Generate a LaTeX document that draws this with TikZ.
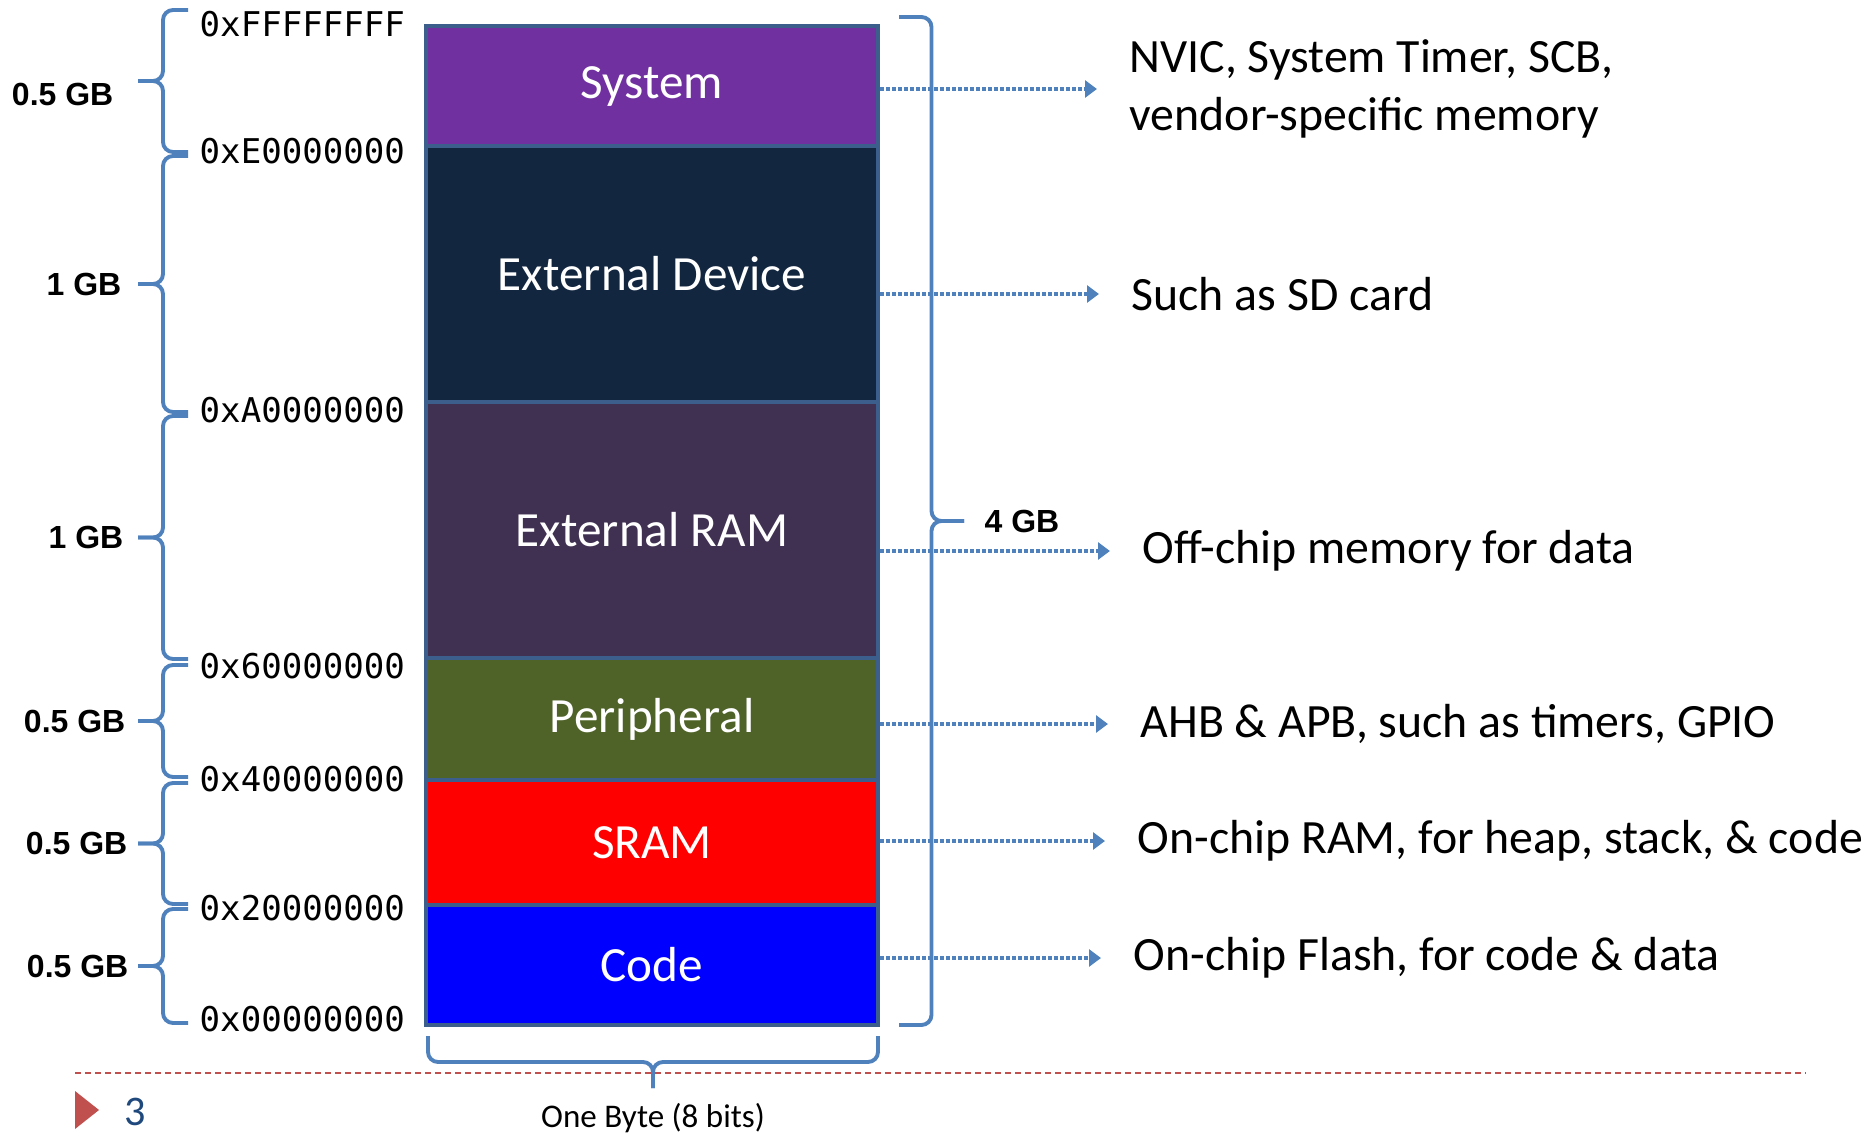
\documentclass[tikz,border=0pt]{standalone}
\usepackage{fontspec}
\setmainfont{Carlito}
\newfontfamily\addrfont{DejaVu Sans Mono}
\newfontfamily\gbfont{Liberation Sans}
\usepackage{tikz}
\usetikzlibrary{arrows.meta,positioning,calc}
\usepackage{xcolor}
\definecolor{framec}{RGB}{59,94,140}
\definecolor{bracec}{RGB}{79,129,189}
\definecolor{sysc}{RGB}{112,48,160}
\definecolor{devc}{RGB}{19,38,64}
\definecolor{ramc}{RGB}{64,49,82}
\definecolor{perc}{RGB}{79,98,40}
\definecolor{sramc}{RGB}{255,0,0}
\definecolor{codec}{RGB}{0,0,255}
\definecolor{slidered}{RGB}{192,80,77}
\definecolor{pagec}{RGB}{31,73,125}

% vertical brace: end x, tip x, top y, bottom y, tip name
\newcommand{\vbrc}[5]{%
  \coordinate (#5) at (#2,{(#3+#4)/2});
  \draw[brcline] (#1,#3) -- ({(#1+#2)/2},#3) -- ({(#1+#2)/2},{(#3+#4)/2}) -- (#5);
  \draw[brcline] (#5) -- ({(#1+#2)/2},{(#3+#4)/2}) -- ({(#1+#2)/2},#4) -- (#1,#4);}
% horizontal brace: left x, right x, end y, tip y, tip name
\newcommand{\hbrc}[5]{%
  \coordinate (#5) at ({(#1+#2)/2},#4);
  \draw[brcline] (#1,#3) -- (#1,{(#3+#4)/2}) -- ({(#1+#2)/2},{(#3+#4)/2}) -- (#5);
  \draw[brcline] (#5) -- ({(#1+#2)/2},{(#3+#4)/2}) -- (#2,{(#3+#4)/2}) -- (#2,#3);}

\begin{document}
\begin{tikzpicture}[region/.style={draw=framec, line width=1.4pt, minimum width=4.52cm, text=white, font=\fontsize{14}{16}\selectfont},
  note/.style={anchor=west, inner sep=0, align=left, font=\fontsize{13.6}{16.5}\selectfont},
  addr/.style={anchor=west, inner sep=0, font=\addrfont\fontsize{9.7}{11}\selectfont},
  gbsize/.style={inner sep=0, font=\gbfont\bfseries\fontsize{9.1}{11}\selectfont},
  brcline/.style={draw=bracec, line width=1.1pt, rounded corners=0.1cm},
  link/.style={draw=bracec, line width=1.3pt, dash pattern=on 0.04cm off 0.02cm, -{Triangle[length=0.12cm,width=0.17cm]}, shorten >=0.32cm}]
\useasboundingbox (0,0) rectangle (18.75,11.36);

% memory regions
\node[region, fill=sysc, minimum height=1.2cm] (sys) at (6.52,10.50) {System};
\node[region, fill=devc, minimum height=2.56cm] (dev) at (6.52,8.62) {External Device};
\node[region, fill=ramc, minimum height=2.56cm] (ram) at (6.52,6.06) {External RAM};
\node[region, fill=perc, minimum height=1.22cm] (per) at (6.52,4.17) {Peripheral};
\node[region, fill=sramc, minimum height=1.25cm] (sram) at (6.52,2.935) {SRAM};
\node[region, fill=codec, minimum height=1.2cm] (code) at (6.52,1.71) {Code};

% addresses
\node[addr] (aF) at (1.99,11.12) {0xFFFFFFFF};
\node[addr] (aE) at (1.99,9.85) {0xE0000000};
\node[addr] (aA) at (1.99,7.26) {0xA0000000};
\node[addr] (a6) at (1.99,4.70) {0x60000000};
\node[addr] (a4) at (1.99,3.57) {0x40000000};
\node[addr] (a2) at (1.99,2.28) {0x20000000};
\node[addr] (a0) at (1.99,1.17) {0x00000000};

% sizes
\vbrc{1.88}{1.38}{11.26}{9.84}{t1}
\vbrc{1.88}{1.38}{9.80}{7.24}{t2}
\vbrc{1.88}{1.38}{7.20}{4.77}{t3}
\vbrc{1.88}{1.38}{4.71}{3.59}{t4}
\vbrc{1.88}{1.38}{3.53}{2.32}{t5}
\vbrc{1.88}{1.38}{2.27}{1.13}{t6}
\vbrc{8.99}{9.64}{11.19}{1.11}{t7}
\hbrc{4.28}{8.78}{1.00}{0.48}{t8}
\node[gbsize, left=0.24cm of t1, yshift=-0.13cm] (s1) {0.5 GB};
\node[gbsize, left=0.16cm of t2] (s2) {1 GB};
\node[gbsize, left=0.14cm of t3] (s3) {1 GB};
\node[gbsize, left=0.12cm of t4] (s4) {0.5 GB};
\node[gbsize, left=0.10cm of t5] (s5) {0.5 GB};
\node[gbsize, left=0.09cm of t6] (s6) {0.5 GB};
\node[gbsize, right=0.20cm of t7] (s7) {4 GB};
\node[font=\fontsize{9.4}{11}\selectfont] (byte) at ($(t8)+(0,-0.30)$) {One Byte (8 bits)};

% notes
\node[note] (sysnote) at (11.29,10.47) {NVIC, System Timer, SCB,\\vendor-specific memory};
\node[note] (devnote) at (11.31,8.42) {Such as SD card};
\node[note] (ramnote) at (11.42,5.85) {Off-chip memory for data};
\node[note] (pernote) at (11.40,4.12) {AHB \& APB, such as timers, GPIO};
\node[note] (sramnote) at (11.37,2.95) {On-chip RAM, for heap, stack, \& code};
\node[note] (codenote) at (11.33,1.78) {On-chip Flash, for code \& data};
\draw[link] (sys.east |- sysnote.west) -- (sysnote.west);
\draw[link] (dev.east |- devnote.west) -- (devnote.west);
\draw[link] (ram.east |- ramnote.west) -- (ramnote.west);
\draw[link] (per.east |- pernote.west) -- (pernote.west);
\draw[link] (sram.east |- sramnote.west) -- (sramnote.west);
\draw[link] (code.east |- codenote.west) -- (codenote.west);

% slide footer
\draw[slidered, line width=0.6pt, dash pattern=on 0.06cm off 0.04cm] (0.75,0.63) -- (18.06,0.63);
\fill[slidered] (0.75,0.45) -- (0.99,0.26) -- (0.75,0.07) -- cycle;
\node[text=pagec, font=\fontsize{12}{14}\selectfont] (pg) at (1.35,0.24) {3};
\end{tikzpicture}
\end{document}
